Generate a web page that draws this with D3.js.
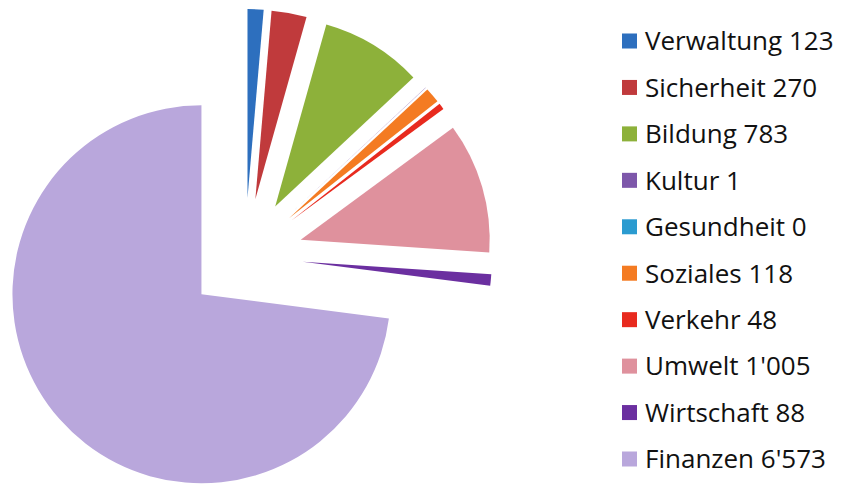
<!DOCTYPE html>
<html>
<head>
<meta charset="utf-8">
<script src="https://cdn.jsdelivr.net/npm/d3@7"></script>
<style>
  body { margin: 0; background: #fff; }
  svg { display: block; }
</style>
</head>
<body>
<svg id="chart" width="841" height="484"></svg>
<script>
var categories = ["Verwaltung", "Sicherheit", "Bildung", "Kultur", "Gesundheit",
                  "Soziales", "Verkehr", "Umwelt", "Wirtschaft", "Finanzen"];
var values = [123, 270, 783, 1, 0, 118, 48, 1005, 88, 6573];
var labels = ["123", "270", "783", "1", "0", "118", "48", "1'005", "88", "6'573"];
var colors = ["#2d6fbe", "#c03a3c", "#8db13a", "#7d57aa", "#2b9bd0",
              "#f47b22", "#e82a1e", "#df919d", "#6b2fa0", "#b9a7dc"];

var width = 841,
    height = 484,
    cx = 245,
    cy = 256,
    radius = 189,
    explode = 58;

var svg = d3.select("#chart");

var data = categories.map(function (c, i) {
    return { name: c, value: values[i], label: labels[i], color: colors[i] };
});

var pie = d3.pie()
    .value(function (d) { return d.value; })
    .sort(null);

var arc = d3.arc()
    .innerRadius(0)
    .outerRadius(radius);

var g = svg.append("g")
    .attr("transform", "translate(" + cx + "," + cy + ")");

// every slice pulled out along its middle angle
g.selectAll("path.slice")
    .data(pie(data))
    .enter().append("path")
    .attr("class", "slice")
    .attr("fill", function (d) { return d.data.color; })
    .attr("transform", function (d) {
        var a = (d.startAngle + d.endAngle) / 2;
        return "translate(" + (Math.sin(a) * explode) + "," + (-Math.cos(a) * explode) + ")";
    })
    .attr("d", arc);

// legend
var legendY = d3.scalePoint()
    .domain(categories)
    .range([41, 459]);

var legend = svg.append("g").attr("class", "legend");

var item = legend.selectAll("g.item")
    .data(data)
    .enter().append("g")
    .attr("class", "item")
    .attr("transform", function (d) { return "translate(622," + legendY(d.name) + ")"; });

item.append("rect")
    .attr("x", 0)
    .attr("y", -7.5)
    .attr("width", 15)
    .attr("height", 15)
    .attr("fill", function (d) { return d.color; });

item.append("text")
    .attr("x", 23)
    .attr("y", 0)
    .attr("dy", "0.36em")
    .style("font-family", "'Open Sans', sans-serif")
    .style("font-size", "26px")
    .style("fill", "#111")
    .text(function (d) { return d.name + " " + d.label; });
</script>
</body>
</html>
